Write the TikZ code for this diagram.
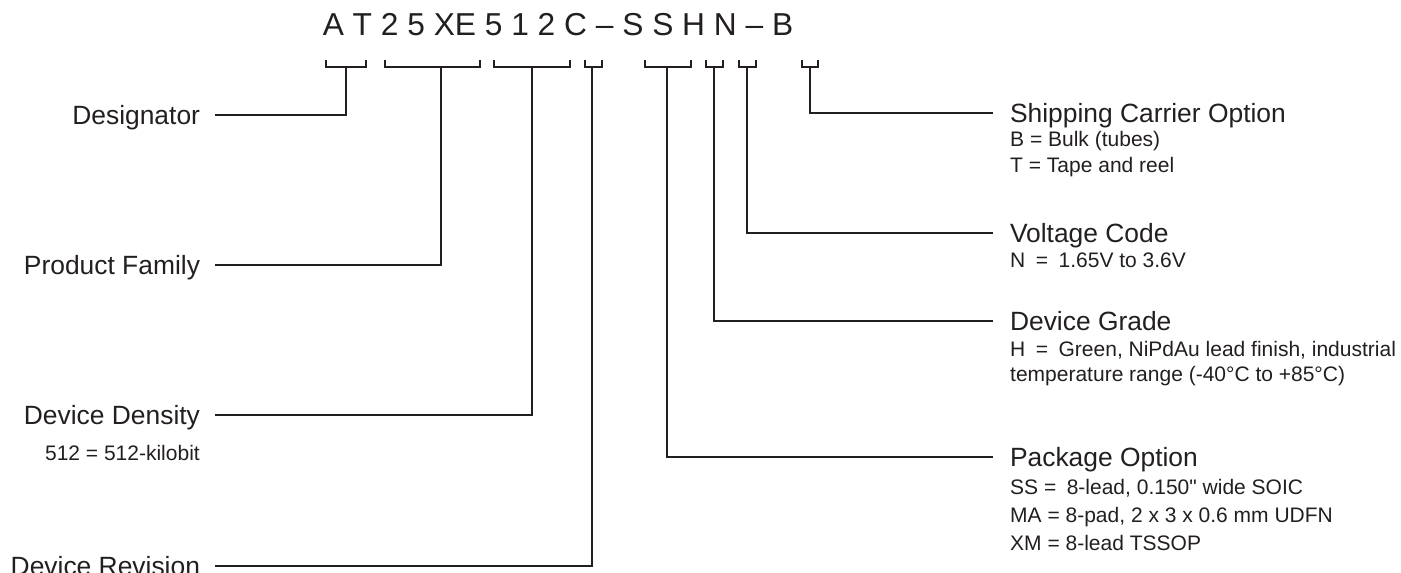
\documentclass[tikz,border=0pt]{standalone}
\usepackage{fontspec}
\setmainfont{Liberation Sans}
\usepackage{tikz}
\usetikzlibrary{calc}
\definecolor{ink}{HTML}{231F20}
\tikzset{%
  leadline/.style={draw=ink, line width=2.3bp},
  labelL/.style={anchor=east, inner sep=0pt, outer xsep=15bp, text height=18.9bp, text depth=0pt, text=ink, font=\fontsize{26.4bp}{30bp}\selectfont},
  labelR/.style={labelL, anchor=west, outer xsep=17bp},
  desctext/.style={anchor=base west, inner sep=0pt, text=ink, font=\fontsize{21bp}{25bp}\selectfont}
}

\begin{document}
\begin{tikzpicture}[x=1bp, y=-1bp]
\useasboundingbox (0,0) rectangle (1401,573);

\node (part) [anchor=base, inner sep=0pt, text=ink, font=\fontsize{31.7bp}{36bp}\selectfont] at (558,36) {A T 2 5 XE 5 1 2 C – S S H N – B};

% brackets
\foreach \l/\r/\s/\n in {326/366/346/AT, 385/480/441/FAM, 494/570/532/DEN, 585/602/592/REV, 645/691/667/PKG, 706/723/714/GRD, 739/756/747/VOLT, 802/818/810/SHIP} {
  \draw [leadline] (\l,60) |- (\r,67) -- (\r,60);
  \coordinate (\n) at (\s,67);
}

\node (desig) [labelL] at (215,115) {Designator};
\node (family) [labelL] at (215,265) {Product Family};
\node (density) [labelL] at (215,415) {Device Density};
\node (revision) [labelL] at (215,566) {Device Revision};
\node (density1) [desctext, anchor=base east] at (200,460.5) {512 = 512-kilobit};

\node (ship) [labelR] at (993,113) {Shipping Carrier Option};
\node (ship1) [desctext] at (1010,146.5) {B = Bulk (tubes)};
\node (ship2) [desctext] at (1010,172.5) {T = Tape and reel};

\node (volt) [labelR] at (993,233) {Voltage Code};
\node (volt1) [desctext] at (1010,267.5) {N\enspace=\enspace 1.65V to 3.6V};

\node (grade) [labelR] at (993,321) {Device Grade};
\node (grade1) [desctext] at (1010,356.5) {H\enspace=\enspace Green, NiPdAu lead finish, industrial};
\node (grade2) [desctext] at (1010,381.5) {temperature range (-40°C to +85°C)};

\node (pkg) [labelR] at (993,457) {Package Option};
\node (pkg1) [desctext] at (1010,494.5) {SS =\enspace 8-lead, 0.150\textquotedbl{} wide SOIC};
\node (pkg2) [desctext] at (1010,522.5) {MA = 8-pad, 2 x 3 x 0.6 mm UDFN};
\node (pkg3) [desctext] at (1010,550.5) {XM = 8-lead TSSOP};

% leads
\draw [leadline] (AT) |- (desig.east);
\draw [leadline] (FAM) |- (family.east);
\draw [leadline] (DEN) |- (density.east);
\draw [leadline] (REV) |- (revision.east);
\draw [leadline] (PKG) |- (pkg.west);
\draw [leadline] (GRD) |- (grade.west);
\draw [leadline] (VOLT) |- (volt.west);
\draw [leadline] (SHIP) |- (ship.west);
\end{tikzpicture}
\end{document}
